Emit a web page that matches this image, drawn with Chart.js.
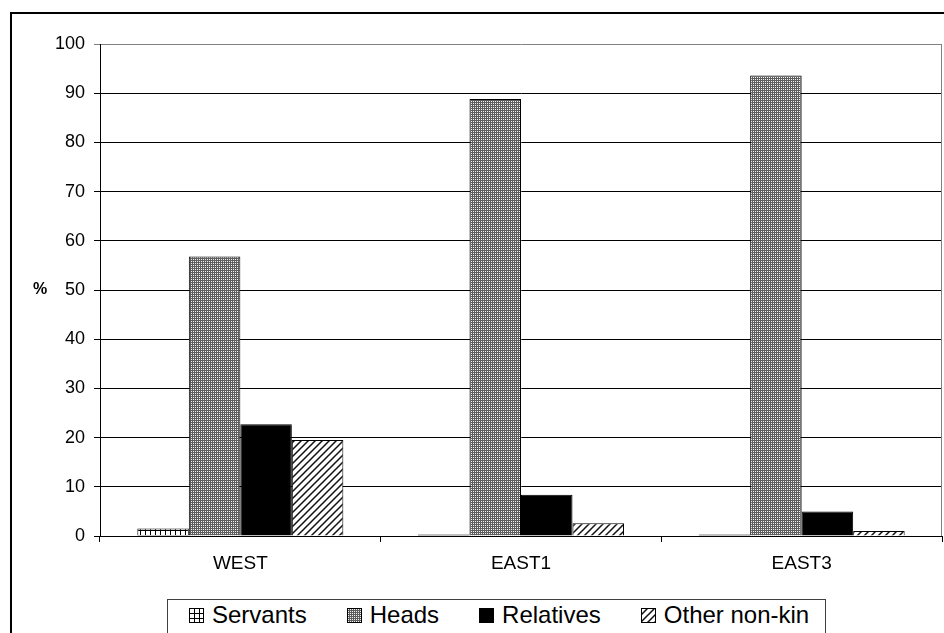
<!DOCTYPE html>
<html>
<head>
<meta charset="utf-8">
<script src="https://cdn.jsdelivr.net/npm/chart.js@4"></script>
<style>
    html, body { margin: 0; padding: 0; background: #fff; overflow: hidden; }
    #wrap { position: relative; width: 944px; height: 633px; overflow: hidden; }
    #frame {
        position: absolute; left: 10px; top: 12px; width: 1000px; height: 700px;
        border-left: 2px solid #000; border-top: 2px solid #000;
    }
    #myChart { position: absolute; left: 0; top: 0; }
    #legend {
        position: absolute; left: 167px; top: 599px; height: 60px;
        border: 1px solid #404040; background: #fff;
        padding: 1px 16px 0 21px;
        display: flex; align-items: flex-start;
        font-family: Arial, "Liberation Sans", sans-serif; font-size: 24px; line-height: 28px;
        color: #000; white-space: nowrap;
    }
    #legend .item { display: flex; align-items: center; margin-right: 40px; }
    #legend .item:last-child { margin-right: 0; }
    #legend canvas { margin-right: 8px; }
</style>
</head>
<body>
<div id="wrap">
    <div id="frame"></div>
    <canvas id="myChart" width="944" height="633"></canvas>
    <div id="legend"></div>
</div>
<script>
const categories = ['WEST', 'EAST1', 'EAST3'];
const servants = [1.5, 0.3, 0.3];
const heads = [56.8, 88.8, 93.6];
const relatives = [22.7, 8.4, 5.0];
const otherNonKin = [19.5, 2.6, 1.0];
const seriesNames = ['Servants', 'Heads', 'Relatives', 'Other non-kin'];
const yMin = 0;
const yMax = 100;
const yStep = 10;

const canvas = document.getElementById('myChart');
const ctx = canvas.getContext('2d');

// tile painters for the bar fills
const paintGrid = (t) => {
    t.fillStyle = '#000';
    t.fillRect(0, 0, 1, 5);
    t.fillRect(0, 0, 5, 1);
};
const paintDots = (t) => {
    t.fillStyle = '#5e5e5e';
    t.fillRect(0, 0, 2, 2);
    t.fillStyle = '#f2f2f2';
    t.fillRect(1, 1, 1, 1);
};
const paintStripes = (t) => {
    t.strokeStyle = '#111';
    t.lineWidth = 1.5;
    t.beginPath();
    t.moveTo(-1, 8); t.lineTo(8, -1);
    t.moveTo(-8, 8); t.lineTo(8, -8);
    t.moveTo(-1, 15); t.lineTo(15, -1);
    t.stroke();
};

const makePattern = (target, size, paint) => {
    const tile = document.createElement('canvas');
    tile.width = size;
    tile.height = size;
    const t = tile.getContext('2d');
    t.fillStyle = '#fff';
    t.fillRect(0, 0, size, size);
    paint(t);
    return target.createPattern(tile, 'repeat');
};

const tiles = [[5, paintGrid], [2, paintDots], null, [7, paintStripes]];
const fillFor = (target, i) => (tiles[i] ? makePattern(target, tiles[i][0], tiles[i][1]) : '#000');
const values = [servants, heads, relatives, otherNonKin];

const PLOT_BOTTOM = 536;

const plotBits = {
    id: 'plotBits',
    afterDraw(chart) {
        const c = chart.ctx;
        const area = chart.chartArea;
        c.save();
        // grey right edge of the plot area
        c.strokeStyle = '#808080';
        c.lineWidth = 1;
        c.beginPath();
        c.moveTo(Math.round(area.right) - 0.5, area.top);
        c.lineTo(Math.round(area.right) - 0.5, area.bottom);
        c.stroke();

        // axis title, written upright
        c.fillStyle = '#000';
        c.font = 'bold 16px Arial, "Liberation Sans"';
        c.textAlign = 'center';
        c.textBaseline = 'middle';
        c.fillText('%', 40, chart.scales.y.getPixelForValue(50));
        c.restore();
    }
};

// legend built as html so it can sit in its own box
const htmlLegend = {
    id: 'htmlLegend',
    afterUpdate(chart) {
        const box = document.getElementById('legend');
        box.innerHTML = '';
        chart.data.datasets.forEach((ds, i) => {
            const item = document.createElement('span');
            item.className = 'item';
            const sw = document.createElement('canvas');
            sw.width = 15;
            sw.height = 15;
            const s = sw.getContext('2d');
            s.fillStyle = fillFor(s, i);
            s.fillRect(0, 0, 15, 15);
            s.strokeStyle = '#000';
            s.lineWidth = 1;
            s.strokeRect(0.5, 0.5, 14, 14);
            const label = document.createElement('span');
            label.textContent = ds.label;
            item.appendChild(sw);
            item.appendChild(label);
            box.appendChild(item);
        });
    }
};

new Chart(ctx, {
    type: 'bar',
    data: {
        labels: categories,
        datasets: seriesNames.map((name, i) => ({
            label: name,
            data: values[i],
            backgroundColor: fillFor(ctx, i),
            borderColor: '#000',
            borderWidth: 1,
            categoryPercentage: 0.734,
            barPercentage: 1
        }))
    },
    options: {
        responsive: false,
        animation: false,
        devicePixelRatio: 1,
        layout: {
            padding: { left: 0, top: 44, right: 2, bottom: 0 }
        },
        plugins: {
            legend: { display: false },
            tooltip: { enabled: false }
        },
        scales: {
            x: {
                afterFit: (scale) => { scale.height = 633 - PLOT_BOTTOM; },
                border: { color: '#000', width: 1 },
                grid: {
                    offset: true,
                    drawOnChartArea: false,
                    drawTicks: true,
                    tickLength: 6,
                    color: '#000'
                },
                ticks: {
                    color: '#000',
                    padding: 10,
                    font: { family: 'Arial, "Liberation Sans"', size: 19 }
                }
            },
            y: {
                min: yMin,
                max: yMax,
                afterFit: (scale) => { scale.width = 100; },
                border: { color: '#000', width: 1 },
                grid: {
                    color: (c) => (c.tick && c.tick.value === yMax ? '#808080' : '#000'),
                    tickLength: 6
                },
                ticks: {
                    stepSize: yStep,
                    color: '#000',
                    padding: 9,
                    font: { family: 'Arial, "Liberation Sans"', size: 18 }
                }
            }
        }
    },
    plugins: [plotBits, htmlLegend]
});
</script>
</body>
</html>
